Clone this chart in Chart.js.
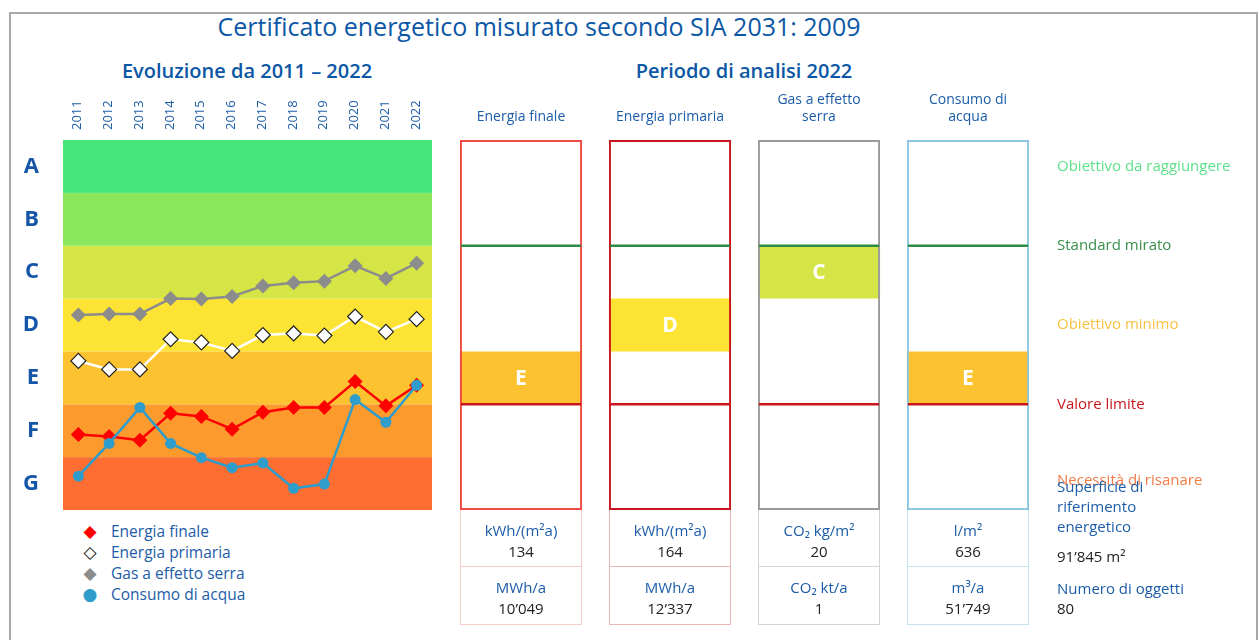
<!DOCTYPE html>
<html>
<head>
<meta charset="utf-8">
<title>Certificato energetico</title>
<script src="https://cdn.jsdelivr.net/npm/chart.js@4.4.1/dist/chart.umd.min.js"></script>
<style>
  body { margin: 0; background: #fff; font-family: "Open Sans", sans-serif; }
  #page { position: relative; width: 1259px; height: 640px; overflow: hidden; }
  .abs { position: absolute; }
  #frame { left: 9px; top: 12px; width: 1245px; height: 640px; border: 2px solid #a9a9a9; border-bottom: none; }
  #title { left: 0; width: 1078px; top: 10px; text-align: center; font-size: 25px; color: #0b57a6; line-height: 32px; }
  .subtitle { top: 57px; width: 400px; text-align: center; font-size: 20px; color: #0b57a6; line-height: 28px; font-weight: 600; }
  #legend { left: 78px; top: 521px; font-size: 15.5px; color: #1c5ca8; line-height: 21px; }
  #legend .mk { display: inline-block; width: 24px; font-family: "DejaVu Sans", sans-serif; font-size: 17px; text-align: center; margin-right: 9px; }
  .cell { box-sizing: border-box; text-align: center; font-size: 15px; line-height: 21px; border: 1px solid; border-top: none; }
  .cell .u { color: #1c5ca8; }
  .cell .v { color: #222; }
  #info { left: 1057px; top: 476px; font-size: 15px; line-height: 20px; color: #1c5ca8; width: 190px; }
  #info .v { color: #222; }
  canvas { position: absolute; }
</style>
</head>
<body>
<div id="page">
  <div id="frame" class="abs"></div>
  <div id="title" class="abs">Certificato energetico misurato secondo SIA 2031: 2009</div>
  <div class="abs subtitle" style="left:47px">Evoluzione da 2011 – 2022</div>
  <div class="abs subtitle" style="left:544px">Periodo di analisi 2022</div>
  <canvas id="trendChart" width="440" height="425" style="left:0;top:90px"></canvas>
  <canvas id="classChart" width="815" height="425" style="left:440px;top:90px"></canvas>
  <div id="legend" class="abs"></div>
  <div id="cells"></div>
  <div id="info" class="abs">
    <div>Superficie di<br>riferimento<br>energetico</div>
    <div class="v" style="margin-top:10px">91’845 m²</div>
    <div style="margin-top:12px">Numero di oggetti</div>
    <div class="v">80</div>
  </div>
</div>
<script>
// Data (class scale: 0 = bottom of G, 7 = top of A)
const years = ["2011", "2012", "2013", "2014", "2015", "2016", "2017", "2018", "2019", "2020", "2021", "2022"];
const classes = ["G", "F", "E", "D", "C", "B", "A"];
const bandColors = ["#fe6e32", "#fd9a2e", "#fdc230", "#fde333", "#d4e545", "#8ae65a", "#46e67a"];

const energiaFinale = [1.43, 1.39, 1.32, 1.83, 1.77, 1.53, 1.85, 1.94, 1.94, 2.43, 1.97, 2.36];
const energiaPrimaria = [2.82, 2.66, 2.66, 3.23, 3.17, 3.01, 3.31, 3.34, 3.30, 3.66, 3.37, 3.61];
const gasSerra = [3.69, 3.71, 3.71, 4.00, 3.99, 4.04, 4.24, 4.30, 4.33, 4.62, 4.38, 4.67];
const consumoAcqua = [0.64, 1.26, 1.94, 1.26, 0.99, 0.80, 0.89, 0.41, 0.49, 2.09, 1.66, 2.36];

const seriesNames = ["Energia finale", "Energia primaria", "Gas a effetto serra", "Consumo di acqua"];

const indicators = [["Energia finale"], ["Energia primaria"], ["Gas a effetto", "serra"], ["Consumo di", "acqua"]];
const indicatorClass = ["E", "D", "C", "E"];
const frameColors = ["#ee4a42", "#c8161c", "#9a9a9a", "#8ec6e0"];
const cellBorders = ["#f7cdca", "#e9b7b7", "#d4d4d4", "#c4e2ef"];

const goalValues = [6.5, 5, 3.5, 2, 0.55];
const goalLabels = ["Obiettivo da raggiungere", "Standard mirato", "Obiettivo minimo", "Valore limite", "Necessità di risanare"];
const goalColors = ["#5fe08c", "#3a8f4c", "#f7c242", "#c8161c", "#f27b47"];

const unitsPerArea = ["kWh/(m²a)", "kWh/(m²a)", "CO₂ kg/m²", "l/m²"];
const valuesPerArea = ["134", "164", "20", "636"];
const unitsTotal = ["MWh/a", "MWh/a", "CO₂ kt/a", "m³/a"];
const valuesTotal = ["10’049", "12’337", "1", "51’749"];

const blue = "#1c5ca8";

// Keep the plot edges where the layout puts them (no extra room for tick labels)
function noLabelPadding(axis) {
    axis.paddingTop = 0;
    axis.paddingBottom = 0;
}

// Colored class bands behind the trend lines
const bandPlugin = {
    id: "bands",
    beforeDatasetsDraw(chart) {
        const { ctx, chartArea, scales: { y } } = chart;
        ctx.save();
        bandColors.forEach((c, i) => {
            const top = y.getPixelForValue(i + 1);
            const bottom = y.getPixelForValue(i);
            ctx.fillStyle = c;
            ctx.fillRect(chartArea.left, top, chartArea.right - chartArea.left, bottom - top);
        });
        ctx.restore();
    }
};

const trendChart = new Chart(document.getElementById("trendChart"), {
    type: "line",
    data: {
        labels: years,
        datasets: [
            { label: seriesNames[0], data: energiaFinale, borderColor: "#ff0000", backgroundColor: "#ff0000",
              pointStyle: "rectRot", pointRadius: 7.5, pointBorderWidth: 0, borderWidth: 2.5, order: 1 },
            { label: seriesNames[1], data: energiaPrimaria, borderColor: "#ffffff", backgroundColor: "#ffffff",
              pointBorderColor: "#222", pointStyle: "rectRot", pointRadius: 7.5, pointBorderWidth: 1.2, borderWidth: 2.5, order: 2 },
            { label: seriesNames[2], data: gasSerra, borderColor: "#8c8c8c", backgroundColor: "#8c8c8c",
              pointStyle: "rectRot", pointRadius: 7.5, pointBorderWidth: 0, borderWidth: 2.5, order: 3 },
            { label: seriesNames[3], data: consumoAcqua, borderColor: "#2e9dcb", backgroundColor: "#2e9dcb",
              pointStyle: "circle", pointRadius: 5.5, pointBorderWidth: 0, borderWidth: 2.5, order: 0 }
        ]
    },
    options: {
        responsive: false,
        animation: false,
        events: [],
        layout: { autoPadding: false, padding: { left: 0, right: 8, top: 0, bottom: 5 } },
        plugins: { legend: { display: false }, tooltip: { enabled: false } },
        scales: {
            x: {
                position: "top",
                offset: true,
                grid: { display: false, drawTicks: false },
                border: { display: false },
                ticks: { autoSkip: false, minRotation: 90, maxRotation: 90, padding: 10, labelOffset: 15, color: blue,
                         font: { family: "Open Sans", size: 13 } },
                afterFit: (axis) => { axis.height = 50; }
            },
            y: {
                min: 0, max: 7,
                grid: { display: false, drawTicks: false },
                border: { display: false },
                afterBuildTicks: (axis) => { axis.ticks = classes.map((c, i) => ({ value: i + 0.5 })); },
                ticks: { padding: 24, color: "#1556a8", font: { family: "Open Sans", size: 22, weight: "bold" },
                         callback: (v) => classes[Math.floor(v)] },
                afterFit: (axis) => { axis.width = 63; noLabelPadding(axis); }
            }
        }
    },
    plugins: [bandPlugin]
});

// Threshold lines and class letters inside the indicator boxes
const ratingPlugin = {
    id: "rating",
    afterDatasetsDraw(chart) {
        const { ctx, scales: { y } } = chart;
        const frames = chart.getDatasetMeta(1).data;
        const cells = chart.getDatasetMeta(0).data;
        ctx.save();
        frames.forEach((bar, i) => {
            const left = bar.x - bar.width / 2 + 1;
            const right = bar.x + bar.width / 2 - 1;
            [[5, "#2e8b45"], [2, "#c8161c"]].forEach(([v, c]) => {
                const py = y.getPixelForValue(v);
                ctx.strokeStyle = c;
                ctx.lineWidth = 2.5;
                ctx.beginPath();
                ctx.moveTo(left, py);
                ctx.lineTo(right, py);
                ctx.stroke();
            });
            const cell = cells[i];
            ctx.fillStyle = "#ffffff";
            ctx.font = "bold 21px 'Open Sans'";
            ctx.textAlign = "center";
            ctx.textBaseline = "middle";
            ctx.fillText(indicatorClass[i], cell.x, (cell.y + cell.base) / 2 + 1);
        });
        ctx.restore();
    }
};

const classChart = new Chart(document.getElementById("classChart"), {
    type: "bar",
    data: {
        labels: indicators,
        datasets: [
            {
                label: "Classe",
                data: indicatorClass.map((c) => [classes.indexOf(c), classes.indexOf(c) + 1]),
                backgroundColor: indicatorClass.map((c) => bandColors[classes.indexOf(c)]),
                grouped: false, barPercentage: 1, categoryPercentage: 0.82, order: 1
            },
            {
                label: "Cornice",
                data: indicators.map(() => [0, 7]),
                backgroundColor: "rgba(0,0,0,0)",
                borderColor: frameColors,
                borderWidth: 2,
                borderSkipped: false,
                grouped: false, barPercentage: 1, categoryPercentage: 0.82, order: 0
            }
        ]
    },
    options: {
        responsive: false,
        animation: false,
        events: [],
        layout: { padding: { left: 6.5, right: 0, top: 0, bottom: 5 } },
        plugins: { legend: { display: false }, tooltip: { enabled: false } },
        scales: {
            x: {
                position: "top",
                grid: { display: false, drawTicks: false },
                border: { display: false },
                ticks: { padding: 14, color: blue, font: { family: "Open Sans", size: 14, lineHeight: 1.25 } },
                afterFit: (axis) => { axis.height = 50; }
            },
            y: {
                position: "right",
                min: 0, max: 7,
                grid: { display: false, drawTicks: false },
                border: { display: false },
                afterBuildTicks: (axis) => { axis.ticks = goalValues.map((v) => ({ value: v })); },
                ticks: { autoSkip: false, padding: 14.5, font: { family: "Open Sans", size: 15 },
                         color: (ctx) => goalColors[ctx.index],
                         callback: (v, i) => goalLabels[i] },
                afterFit: (axis) => { axis.width = 212.5; noLabelPadding(axis); }
            }
        }
    },
    plugins: [ratingPlugin]
});

// HTML legend below the trend chart
const markers = [["◆", "#ff0000"], ["◇", "#111"], ["◆", "#8c8c8c"], ["●", "#2e9dcb"]];
document.getElementById("legend").innerHTML = seriesNames
    .map((n, i) => `<div><span class="mk" style="color:${markers[i][1]}">${markers[i][0]}</span>${n}</div>`)
    .join("");

// Value cells under each indicator box, aligned to the bars
const cellsDiv = document.getElementById("cells");
const canvasLeft = 440, canvasTop = 90;
classChart.getDatasetMeta(1).data.forEach((bar, i) => {
    const left = canvasLeft + bar.x - bar.width / 2;
    const top = canvasTop + bar.base;
    const html = `
      <div class="abs cell" style="left:${left}px;top:${top}px;width:${bar.width}px;height:57px;border-color:${cellBorders[i]};padding-top:10px">
        <div class="u">${unitsPerArea[i]}</div><div class="v">${valuesPerArea[i]}</div></div>
      <div class="abs cell" style="left:${left}px;top:${top + 57}px;width:${bar.width}px;height:58px;border-color:${cellBorders[i]};padding-top:10px">
        <div class="u">${unitsTotal[i]}</div><div class="v">${valuesTotal[i]}</div></div>`;
    cellsDiv.insertAdjacentHTML("beforeend", html);
});
</script>
</body>
</html>
